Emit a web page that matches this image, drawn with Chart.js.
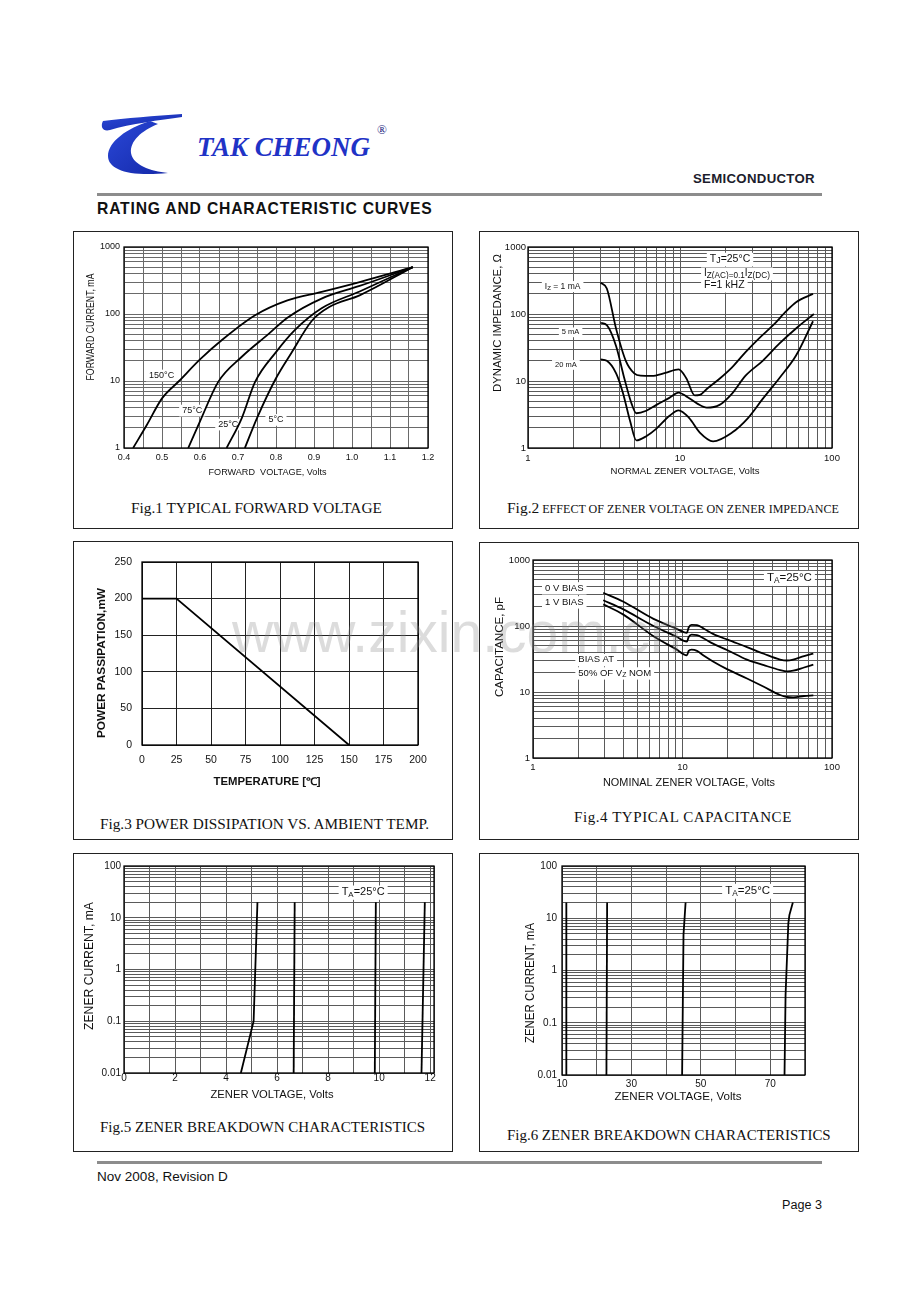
<!DOCTYPE html>
<html>
<head>
<meta charset="utf-8">
<title>Tak Cheong - Rating and Characteristic Curves</title>
<script src="https://cdn.jsdelivr.net/npm/chart.js@4.4.1/dist/chart.umd.min.js"></script>
<style>
  body { margin: 0; background: #fff; }
  #page { position: relative; width: 920px; height: 1302px; overflow: hidden; background: #fff;
          font-family: 'Liberation Sans', Arial, sans-serif; color: #111; }
  .box { position: absolute; border: 1px solid #222; box-sizing: border-box; }
  canvas { position: absolute; }
  .txt { position: absolute; white-space: nowrap; line-height: 1; }
  .cap { font-family: 'Liberation Serif', 'Times New Roman', serif; color: #111; }
  .rule { position: absolute; background: #8c8c8c; }
</style>
</head>
<body>
<div id="page">
  <svg width="920" height="200" style="position:absolute;left:0;top:0">
    <defs>
      <linearGradient id="lg" x1="0" y1="0" x2="1" y2="1">
        <stop offset="0" stop-color="#2a48d8"/>
        <stop offset="1" stop-color="#1428a8"/>
      </linearGradient>
    </defs>
    <path d="M103,121 C125,118 155,116 182,114 L182,117 C160,120 130,124 110,130 C103,132 100,127 103,121 Z" fill="url(#lg)"/>
    <path d="M150,121 C127,128 108,142 108,156 C108,170 130,177 168,173 C150,171 133,165 131,153 C130,141 141,131 158,124 Z" fill="url(#lg)"/>
  </svg>
  <div class="txt" data-w="173" style="left:197px;top:132px;font:italic bold 26px 'Liberation Serif',serif;color:#1f33c6">TAK CHEONG</div>
  <div class="txt" style="left:377px;top:122px;font:13px 'Liberation Serif',serif;color:#1a237e">®</div>
  <div class="txt" data-w="122" style="left:693px;top:172px;font-weight:bold;font-size:13px;letter-spacing:0.3px;color:#1c1c2c">SEMICONDUCTOR</div>
  <div class="rule" style="left:97px;top:193px;width:725px;height:3px"></div>
  <div class="txt" data-w="336" style="left:97px;top:201px;font-weight:bold;font-size:15.5px;letter-spacing:0.8px">RATING AND CHARACTERISTIC CURVES</div>

  <div class="box" style="left:73px;top:231px;width:380px;height:298px"></div>
  <div class="box" style="left:479px;top:231px;width:380px;height:298px"></div>
  <div class="box" style="left:73px;top:541px;width:380px;height:299px"></div>
  <div class="box" style="left:479px;top:542px;width:380px;height:298px"></div>
  <div class="box" style="left:73px;top:853px;width:380px;height:299px"></div>
  <div class="box" style="left:479px;top:853px;width:380px;height:299px"></div>

  <canvas id="fig1"></canvas>
  <canvas id="fig2"></canvas>
  <canvas id="fig3"></canvas>
  <canvas id="fig4"></canvas>
  <canvas id="fig5"></canvas>
  <canvas id="fig6"></canvas>

  <div class="txt cap" data-w="251" style="left:131px;top:500px;font-size:15px">Fig.1 TYPICAL FORWARD VOLTAGE</div>
  <div class="txt cap" data-w="332" style="left:507px;top:500px;font-size:15px">Fig.2<span style="font-size:0.78em"> EFFECT OF ZENER VOLTAGE ON ZENER IMPEDANCE</span></div>
  <div class="txt cap" data-w="329" style="left:100px;top:816px;font-size:15px">Fig.3 POWER DISSIPATION VS. AMBIENT TEMP.</div>
  <div class="txt cap" data-w="218" style="left:574px;top:810px;font-size:15px;letter-spacing:0.56px">Fig.4 TYPICAL CAPACITANCE</div>
  <div class="txt cap" data-w="325" style="left:100px;top:1120px;font-size:15px">Fig.5 ZENER BREAKDOWN CHARACTERISTICS</div>
  <div class="txt cap" data-w="324" style="left:507px;top:1128px;font-size:15px">Fig.6 ZENER BREAKDOWN CHARACTERISTICS</div>

  <div class="rule" style="left:97px;top:1161px;width:725px;height:3px"></div>
  <div class="txt" data-w="131" style="left:97px;top:1170px;font-size:13px">Nov 2008, Revision D</div>
  <div class="txt" data-w="40" style="right:98px;top:1199px;font-size:13px">Page 3</div>

  <div class="txt" style="left:232px;top:604px;font-size:57px;color:rgba(140,140,140,0.3);pointer-events:none">www.zixin.com.cn</div>
</div>

<script>
const FONT = "'Liberation Sans', Arial, sans-serif";

// ---- Fig.1 typical forward voltage (V, mA) ----
const fig1V150 = [0.424, 0.46, 0.5, 0.545, 0.6, 0.66, 0.745, 0.83, 0.92, 1.02, 1.16];
const fig1I150 = [1, 2.2, 5.5, 10, 21, 42, 96, 160, 214, 300, 500];
const fig1V75 = [0.569, 0.6, 0.648, 0.71, 0.78, 0.83, 0.92, 1.02, 1.16];
const fig1I75 = [1, 2.5, 9.7, 23, 50, 88, 170, 262, 500];
const fig1V25 = [0.67, 0.71, 0.745, 0.8, 0.85, 0.92, 1.02, 1.16];
const fig1I25 = [1, 2.8, 9.7, 27, 58, 122, 217, 500];
const fig1V5 = [0.718, 0.75, 0.8, 0.84, 0.895, 0.94, 1.02, 1.16];
const fig1I5 = [1, 2.8, 11, 26, 80, 127, 190, 500];
const fig1XGrid = [0.4, 0.45, 0.5, 0.55, 0.6, 0.65, 0.7, 0.75, 0.8, 0.85, 0.9, 0.95, 1.0, 1.05, 1.1, 1.15, 1.2];
const fig1XLabels = [0.4, 0.5, 0.6, 0.7, 0.8, 0.9, 1.0, 1.1, 1.2];
const fig1XText = ['0.4', '0.5', '0.6', '0.7', '0.8', '0.9', '1.0', '1.1', '1.2'];
const fig1YLabels = [1, 10, 100, 1000];

// ---- Fig.2 zener impedance (V, ohm) ----
const fig2V1 = [3, 3.3, 3.8, 4.4, 5.0, 5.5, 6.5, 8, 9.8, 11, 12.5, 13.5, 15, 18.2, 22, 27, 33, 41, 50, 58, 75];
const fig2Z1 = [294, 240, 60, 20, 13, 12, 11.9, 13.2, 14.9, 11, 6.1, 6.2, 7.6, 10.8, 16, 27, 43, 68, 110, 150, 200];
const fig2V5 = [3, 3.3, 3.8, 4.3, 4.8, 5.16, 6, 7, 8.5, 9.8, 11, 13, 15, 18.2, 22, 27, 35, 45, 60, 76];
const fig2Z5 = [74, 68, 33, 11, 4.6, 3.3, 3.6, 4.4, 5.6, 6.7, 5.9, 4.6, 4.0, 4.4, 6.5, 12, 20, 36, 65, 100];
const fig2V20 = [3, 3.3, 3.8, 4.2, 4.7, 5.16, 6, 7, 8.5, 9.8, 11.5, 13.5, 16.5, 22, 28, 35, 45, 58, 75];
const fig2Z20 = [21, 20, 13, 6.8, 2.5, 1.3, 1.5, 1.95, 3.0, 3.65, 2.8, 1.7, 1.26, 1.7, 2.8, 5.4, 11, 24, 78];
const fig2XLabels = [1, 10, 100];
const fig2YLabels = [1, 10, 100, 1000];

// ---- Fig.3 power derating (degC, mW) ----
const fig3T = [0, 25, 150];
const fig3P = [200, 200, 0];
const fig3XGrid = [0, 25, 50, 75, 100, 125, 150, 175, 200];
const fig3YGrid = [0, 50, 100, 150, 200, 250];

// ---- Fig.4 capacitance (V, pF) ----
const fig4V = [2.95, 4, 6.4, 9, 10.7, 11.0, 11.5, 12.5, 14, 16, 20, 27, 35, 45, 50, 55, 65, 75];
const fig4C0 = [319, 235, 128, 92, 79, 95, 104, 103, 90, 76, 62, 48, 38, 31, 30, 31, 35, 38];
const fig4C1 = [246, 180, 100, 70, 58, 68, 74, 73, 64, 54, 43, 31, 25.5, 21.5, 20.6, 21, 23.5, 26];
const fig4C50 = [213, 150, 70, 45, 36, 42, 44, 42, 35, 29, 22, 16, 12, 9, 8.4, 8.3, 8.7, 8.9];
const fig4XLabels = [1, 10, 100];
const fig4YLabels = [1, 10, 100, 1000];

// ---- Fig.5 zener breakdown, low voltage (V, mA) ----
const fig5VA = [4.58, 5.08, 5.23], fig5IA = [0.01, 0.1, 20];
const fig5VB = [6.65, 6.69], fig5IB = [0.01, 20];
const fig5VC = [9.83, 9.87], fig5IC = [0.01, 20];
const fig5VD = [11.66, 11.79], fig5ID = [0.01, 20];
const fig5XGrid = [0, 1, 2, 3, 4, 5, 6, 7, 8, 9, 10, 11, 12, 12.15];
const fig5XLabels = [0, 2, 4, 6, 8, 10, 12];
const fig5YLabels = [0.01, 0.1, 1, 10, 100];
const fig5YText = ['0.01', '0.1', '1', '10', '100'];

// ---- Fig.6 zener breakdown, high voltage (V, mA) ----
const fig6VA = [11.2, 11.25], fig6IA = [0.01, 20];
const fig6VB = [22.8, 23.0], fig6IB = [0.01, 20];
const fig6VC = [44.6, 45.0, 45.6], fig6IC = [0.01, 4.8, 20];
const fig6VD = [74.1, 74.4, 75.2, 75.5, 76.5], fig6ID = [0.01, 0.34, 8, 11.5, 20];
const fig6XGrid = [10, 20, 30, 40, 50, 60, 70, 80];
const fig6XLabels = [10, 30, 50, 70];

// stretch page texts to the widths measured on the sheet
document.querySelectorAll('[data-w]').forEach(el => {
  const fs = parseFloat(getComputedStyle(el).fontSize);
  el.style.fontSize = (fs * (+el.dataset.w) / el.getBoundingClientRect().width).toFixed(2) + 'px';
});

// grid values 1..9 per decade
function logGrid(lo, hi) {
  const out = [];
  for (let d = lo; d < hi * 0.999; d *= 10) {
    for (let k = 1; k < 10; k++) out.push(+(d * k).toPrecision(6));
  }
  out.push(hi);
  return out;
}

function curve(xs, ys, smooth, width) {
  return {
    data: xs.map((x, i) => ({ x: x, y: ys[i] })),
    borderColor: '#000', borderWidth: width || 1.8, pointRadius: 0, fill: false,
    cubicInterpolationMode: smooth ? 'monotone' : 'default', tension: 0
  };
}

// rich text: "I_{Z} = 1 mA" -> subscript Z
function richParts(ctx, str, size, subScale) {
  const parts = str.split(/(_\{[^}]*\})/).filter(Boolean).map(p =>
    p.startsWith('_{') ? { t: p.slice(2, -1), sub: true } : { t: p, sub: false });
  let w = 0;
  parts.forEach(p => {
    p.size = p.sub ? size * subScale : size;
    ctx.font = p.size + 'px ' + FONT;
    p.w = ctx.measureText(p.t).width;
    w += p.w;
  });
  return { parts, w };
}

// axis title at a page centre; the sheet uses a narrow face, so squeeze to the measured length
function drawTitle(ctx, t, cx, cy, w, vertical) {
  const font = (t.font.weight === 'bold' ? 'bold ' : '') + t.font.size + 'px ' + FONT;
  ctx.save();
  ctx.font = font;
  const sx = w / ctx.measureText(t.text).width;
  ctx.fillStyle = '#111';
  ctx.textAlign = 'center';
  ctx.textBaseline = 'middle';
  ctx.translate(cx, cy);
  if (vertical) ctx.rotate(-Math.PI / 2);
  ctx.scale(sx, 1);
  ctx.fillText(t.text, 0, 0);
  ctx.restore();
}

function chartPlugin(cv, geo, notes) {
  return {
    id: 'sheet',
    beforeDatasetsDraw(chart) {
      const ctx = chart.ctx, xs = chart.scales.x, ys = chart.scales.y;
      ctx.save();
      notes.forEach(n => {
        const px = xs.getPixelForValue(n.x), py = ys.getPixelForValue(n.y);
        const r = richParts(ctx, n.text, n.size, n.subScale || 0.72);
        if (n.bg !== false) {
          ctx.fillStyle = '#fff';
          ctx.fillRect(px - 3, py - n.size * 0.62, r.w + 6, n.size * 1.3);
        }
        ctx.fillStyle = '#111';
        ctx.textBaseline = 'middle';
        ctx.textAlign = 'left';
        let x = px;
        r.parts.forEach(p => {
          ctx.font = p.size + 'px ' + FONT;
          ctx.fillText(p.t, x, p.sub ? py + n.size * (n.subDy === undefined ? 0.2 : n.subDy) : py);
          x += p.w;
        });
      });
      ctx.restore();
    },
    afterDatasetsDraw(chart) {
      const a = chart.chartArea, ctx = chart.ctx;
      ctx.save();
      ctx.strokeStyle = '#000';
      ctx.lineWidth = 1.3;
      ctx.strokeRect(a.left, a.top, a.right - a.left, a.bottom - a.top);
      ctx.restore();
      const sx = chart.options.scales.x.title, sy = chart.options.scales.y.title;
      drawTitle(ctx, sx, geo.xTitle[0] - cv[0], geo.xTitle[1] - cv[1], geo.xTitle[2], false);
      drawTitle(ctx, sy, geo.yTitle[0] - cv[0], geo.yTitle[1] - cv[1], geo.yTitle[2], true);
    }
  };
}

function axisOpts(spec, isX, size, tickPad) {
  return {
    type: spec.type, min: spec.min, max: spec.max,
    afterBuildTicks: s => { s.ticks = spec.grid.map(v => ({ value: v })); },
    afterFit: s => { if (isX) s.height = size; else s.width = size; },
    grid: { color: spec.gridColor || '#5a5a5a', lineWidth: 1, drawTicks: false },
    border: { display: false },
    ticks: {
      autoSkip: false, maxRotation: 0, minRotation: 0, padding: tickPad, color: '#111',
      font: { family: FONT, size: spec.tickSize },
      callback: v => {
        const i = spec.labels.findIndex(l => Math.abs(l - v) < 1e-9);
        return i < 0 ? '' : (spec.labelText ? spec.labelText[i] : String(spec.labels[i]));
      }
    },
    // drawn by the sheet plugin so it can sit where the datasheet puts it
    title: { display: false, text: spec.title,
      font: { family: FONT, size: spec.titleSize, weight: spec.bold ? 'bold' : 'normal' } }
  };
}

// cv: canvas [left, top, width, height] on the page; geo.plot: [left, top, right, bottom]
function makeChart(id, cv, geo, xSpec, ySpec, datasets, notes) {
  const canvas = document.getElementById(id);
  canvas.width = cv[2]; canvas.height = cv[3];
  canvas.style.left = cv[0] + 'px'; canvas.style.top = cv[1] + 'px';
  const [pl, pt, pr, pb] = geo.plot;
  const xTickPad = geo.xTickY - pb - xSpec.tickSize * 0.6;
  return new Chart(canvas, {
    type: 'line',
    data: { datasets: datasets },
    options: {
      responsive: false, animation: false, devicePixelRatio: 1,
      layout: { padding: { left: 0, top: pt - cv[1], right: cv[0] + cv[2] - pr, bottom: 0 } },
      plugins: { legend: { display: false }, tooltip: { enabled: false } },
      scales: {
        x: axisOpts(xSpec, true, cv[1] + cv[3] - pb, xTickPad),
        y: axisOpts(ySpec, false, pl - cv[0], geo.yGap)
      }
    },
    plugins: [chartPlugin(cv, geo, notes || [])]
  });
}

// Fig.1
makeChart('fig1', [74, 232, 377, 250],
  { plot: [124, 247, 428, 448], yGap: 4, xTickY: 458,
    xTitle: [267.5, 472, 118], yTitle: [91, 327, 107] },
  { type: 'linear', min: 0.4, max: 1.2, grid: fig1XGrid, labels: fig1XLabels, labelText: fig1XText,
    title: 'FORWARD  VOLTAGE, Volts', titleSize: 9.3, tickSize: 9, gridColor: '#6a6a6a' },
  { type: 'logarithmic', min: 1, max: 1000, grid: logGrid(1, 1000), labels: fig1YLabels,
    title: 'FORWARD CURRENT, mA', titleSize: 10.2, tickSize: 9, gridColor: '#6a6a6a' },
  [curve(fig1V150, fig1I150, true), curve(fig1V75, fig1I75, true),
   curve(fig1V25, fig1I25, true), curve(fig1V5, fig1I5, true)],
  [{ x: 0.466, y: 12.2, text: '150°C', size: 9 },
   { x: 0.553, y: 3.65, text: '75°C', size: 9 },
   { x: 0.648, y: 2.26, text: '25°C', size: 9 },
   { x: 0.78, y: 2.65, text: '5°C', size: 9 }]);

// Fig.2
makeChart('fig2', [480, 232, 377, 250],
  { plot: [528, 247, 832, 448], yGap: 2, xTickY: 458,
    xTitle: [685, 471, 149], yTitle: [498, 323, 138] },
  { type: 'logarithmic', min: 1, max: 100, grid: logGrid(1, 100), labels: fig2XLabels,
    title: 'NORMAL ZENER VOLTAGE, Volts', titleSize: 9.5, tickSize: 9.5 },
  { type: 'logarithmic', min: 1, max: 1000, grid: logGrid(1, 1000), labels: fig2YLabels,
    title: 'DYNAMIC IMPEDANCE, Ω', titleSize: 11.5, tickSize: 9.5 },
  [curve(fig2V1, fig2Z1, true), curve(fig2V5, fig2Z5, true), curve(fig2V20, fig2Z20, true)],
  [{ x: 1.29, y: 259, text: 'I_{Z} = 1 mA', size: 8.5 },
   { x: 1.67, y: 53.7, text: '5 mA', size: 7.5 },
   { x: 1.506, y: 17.5, text: '20 mA', size: 7.5 },
   { x: 15.7, y: 656, text: 'T_{J}=25°C', size: 10.5, subScale: 0.85, subDy: 0.08 },
   { x: 14.4, y: 400, text: 'I_{Z(AC)=0.1}I_{Z(DC)}', size: 10, subScale: 0.82 },
   { x: 14.4, y: 267, text: 'F=1 kHZ', size: 10.5 }]);

// Fig.3
makeChart('fig3', [74, 542, 377, 256],
  { plot: [142, 562, 418, 745], yGap: 10, xTickY: 760,
    xTitle: [267, 782, 107], yTitle: [102, 663, 150] },
  { type: 'linear', min: 0, max: 200, grid: fig3XGrid, labels: fig3XGrid,
    title: 'TEMPERATURE [℃]', titleSize: 10.5, tickSize: 10.5, bold: true, gridColor: '#222' },
  { type: 'linear', min: 0, max: 250, grid: fig3YGrid, labels: fig3YGrid,
    title: 'POWER PASSIPATION,mW', titleSize: 10.5, tickSize: 10.5, bold: true, gridColor: '#222' },
  [curve(fig3T, fig3P, false, 1.8)], []);

// Fig.4
makeChart('fig4', [480, 543, 377, 255],
  { plot: [533, 560, 832, 758], yGap: 3, xTickY: 767,
    xTitle: [689, 783, 172], yTitle: [500, 647, 100] },
  { type: 'logarithmic', min: 1, max: 100, grid: logGrid(1, 100), labels: fig4XLabels,
    title: 'NOMINAL ZENER VOLTAGE, Volts', titleSize: 10.3, tickSize: 9.5 },
  { type: 'logarithmic', min: 1, max: 1000, grid: logGrid(1, 1000), labels: fig4YLabels,
    title: 'CAPACITANCE, pF', titleSize: 11, tickSize: 9.5 },
  [curve(fig4V, fig4C0, true), curve(fig4V, fig4C1, true), curve(fig4V, fig4C50, true)],
  [{ x: 36.7, y: 533, text: 'T_{A}=25°C', size: 11.5 },
   { x: 1.203, y: 376, text: '0 V BIAS', size: 9.5 },
   { x: 1.203, y: 230, text: '1 V BIAS', size: 9.5 },
   { x: 2.01, y: 30.7, text: 'BIAS AT', size: 9.5 },
   { x: 2.01, y: 19.3, text: '50% OF V_{Z} NOM', size: 9.5 }]);

// Fig.5
makeChart('fig5', [74, 854, 377, 256],
  { plot: [124, 866, 434, 1073], yGap: 3, xTickY: 1078,
    xTitle: [272, 1095, 123], yTitle: [89, 966, 128] },
  { type: 'linear', min: 0, max: 12.15, grid: fig5XGrid, labels: fig5XLabels,
    title: 'ZENER VOLTAGE, Volts', titleSize: 11, tickSize: 10 },
  { type: 'logarithmic', min: 0.01, max: 100, grid: logGrid(0.01, 100), labels: fig5YLabels, labelText: fig5YText,
    title: 'ZENER CURRENT, mA', titleSize: 13, tickSize: 10 },
  [curve(fig5VA, fig5IA, false), curve(fig5VB, fig5IB, false),
   curve(fig5VC, fig5IC, false), curve(fig5VD, fig5ID, false)],
  [{ x: 8.53, y: 31, text: 'T_{A}=25°C', size: 11 }]);

// Fig.6
makeChart('fig6', [480, 854, 377, 256],
  { plot: [562, 866, 805, 1075], yGap: 5, xTickY: 1084,
    xTitle: [678, 1097, 127], yTitle: [531, 983, 120] },
  { type: 'linear', min: 10, max: 80, grid: fig6XGrid, labels: fig6XLabels,
    title: 'ZENER VOLTAGE, Volts', titleSize: 11.5, tickSize: 10 },
  { type: 'logarithmic', min: 0.01, max: 100, grid: logGrid(0.01, 100), labels: fig5YLabels, labelText: fig5YText,
    title: 'ZENER CURRENT, mA', titleSize: 12, tickSize: 10 },
  [curve(fig6VA, fig6IA, false), curve(fig6VB, fig6IB, false),
   curve(fig6VC, fig6IC, false), curve(fig6VD, fig6ID, false)],
  [{ x: 57, y: 33.3, text: 'T_{A}=25°C', size: 11.5 }]);
</script>
</body>
</html>
